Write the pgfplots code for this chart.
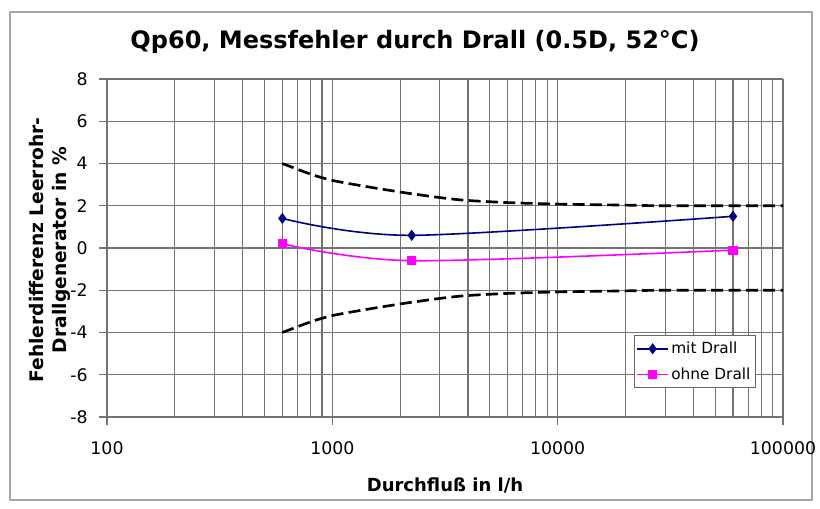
\documentclass[border=0pt]{standalone}
\usepackage{pgfplots}
\pgfplotsset{compat=1.18}
\usepackage{fontspec}
\setmainfont{DejaVu Sans}
\definecolor{navyline}{RGB}{0,0,128}
\definecolor{magline}{RGB}{255,0,255}
\definecolor{gridc}{RGB}{115,115,115}

\begin{document}
\begin{tikzpicture}[x=0.75pt,y=0.75pt]
% picture frame: 820 x 509 px, axis origin at px (107,417)
\useasboundingbox (-107,-92) rectangle (713,417);
\draw[black!35, line width=1.2pt] (-97,-83) rectangle (705,405);

\begin{axis}[
  at={(0,0)}, anchor=south west,
  scale only axis,
  width=507pt, height=253.5pt,
  xmode=log,
  xmin=100, xmax=100000,
  ymin=-8, ymax=8,
  xtick={100,1000,10000,100000},
  xticklabels={100,1000,10000,100000},
  ytick={-8,-6,...,8},
  axis x line*=bottom,
  axis y line*=left,
  axis line style={gridc, line width=0.8pt, -},
  tick align=outside,
  major tick length=6pt,
  minor tick length=0pt,
  tick style={gridc, line width=0.8pt},
  xmajorgrids, xminorgrids, ymajorgrids,
  major grid style={gridc, line width=0.8pt},
  minor grid style={gridc, line width=0.8pt},
  /pgf/number format/assume math mode=true,
  tick label style={font=\fontsize{13}{15}\selectfont},
  xticklabel style={yshift=-9pt},
  yticklabel style={xshift=-5pt},
  legend style={at={(0.779,0.243)}, anchor=north west,
    draw=black!60, line width=0.6pt,
    font=\fontsize{11.5}{13}\selectfont,
    inner xsep=2pt, inner ysep=3pt, row sep=5pt,
    legend cell align=left},
  legend image code/.code={
    \draw[mark repeat=2, mark phase=2]
      plot coordinates {(0cm,0cm) (0.4cm,0cm) (0.8cm,0cm)};},
  clip=false,
]
\addplot[navyline, line width=1.2pt, smooth, tension=0.5,
  mark=diamond*, mark size=3.2pt, mark options={solid, fill=navyline}]
  coordinates {(600,1.4) (2250,0.6) (60000,1.5)};
\addlegendentry{mit Drall}
\addplot[magline, line width=1.2pt, smooth, tension=0.5,
  mark=square*, mark size=2.8pt, mark options={solid, fill=magline}]
  coordinates {(600,0.2) (2250,-0.6) (60000,-0.1)};
\addlegendentry{ohne Drall}
\addplot[black, line width=2pt, dash pattern=on 9pt off 4pt, smooth, forget plot]
  coordinates {(600,4.0) (800,3.5) (1000,3.2) (1430,2.9) (2000,2.65)
    (2500,2.5) (3200,2.35) (4000,2.25) (6000,2.15) (10000,2.08)
    (20000,2.03) (30000,2.0) (100000,2.0)};
\addplot[black, line width=2pt, dash pattern=on 9pt off 4pt, smooth, forget plot]
  coordinates {(600,-4.0) (800,-3.5) (1000,-3.2) (1430,-2.9) (2000,-2.65)
    (2500,-2.5) (3200,-2.35) (4000,-2.25) (6000,-2.15) (10000,-2.08)
    (20000,-2.03) (30000,-2.0) (100000,-2.0)};
\end{axis}

\node[font=\bfseries\fontsize{18}{21}\selectfont] at (308,375)
  {Qp60, Messfehler durch Drall (0.5D, 52°C)};
\node[font=\bfseries\fontsize{13.5}{16}\selectfont] at (338,-68)
  {Durchfluß in l/h};
\node[font=\bfseries\fontsize{14}{17}\selectfont, rotate=90, align=center] at (-57,167)
  {Fehlerdifferenz Leerrohr-\\Drallgenerator in \%};
\end{tikzpicture}
\end{document}
